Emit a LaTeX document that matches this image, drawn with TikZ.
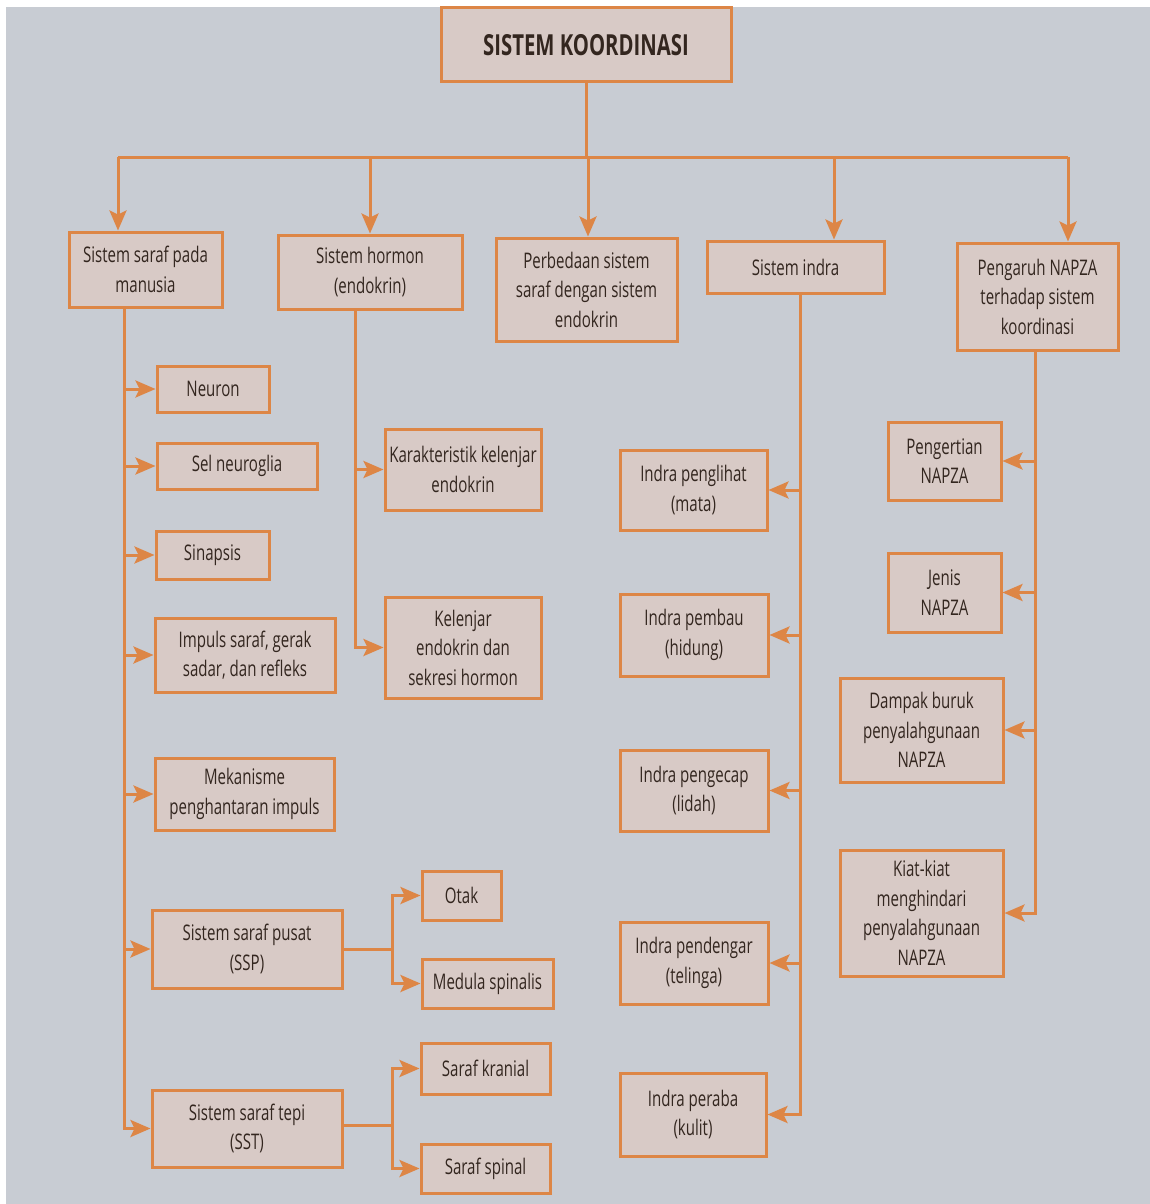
\documentclass[tikz,border=0pt]{standalone}
\usepackage{fontspec}
\setmainfont[FakeStretch=0.7]{Open Sans}
\usetikzlibrary{arrows.meta}
\definecolor{pagebg}{HTML}{C8CCD3}
\definecolor{boxfill}{HTML}{D8CAC6}
\definecolor{orng}{HTML}{DD8646}
\definecolor{ink}{HTML}{33261F}
\tikzset{
  box/.style={draw=orng, line width=3pt, fill=boxfill, inner sep=0pt, align=center,
    text=ink, font=\fontsize{21.5}{29.5}\selectfont},
  titlebox/.style={box, font=\fontsize{29}{32}\selectfont\bfseries},
  conn/.style={draw=orng, line width=3pt},
  arr/.style={conn, -{Stealth[length=20pt,width=17pt,inset=4pt]}},
}
\begin{document}
\begin{tikzpicture}[x=1pt,y=-1pt]
\useasboundingbox (0,0) rectangle (1150,1204);
\fill[white] (0,0) rectangle (1150,1204);
\fill[pagebg] (6,7) rectangle (1150,1204);

% top
\node[titlebox, minimum width=290pt, minimum height=74pt] (top) at (586,45) {SISTEM KOORDINASI};

% level 1
\node[box, minimum width=153pt, minimum height=75pt] (s1) at (145.5,269.5) {Sistem saraf pada\\manusia};
\node[box, minimum width=184pt, minimum height=74pt] (s2) at (370,272) {Sistem hormon\\(endokrin)};
\node[box, minimum width=181pt, minimum height=103pt] (s3) at (586.5,289.5) {Perbedaan sistem\\saraf dengan sistem\\endokrin};
\node[box, minimum width=177pt, minimum height=52pt] (s4) at (795.5,267) {Sistem indra};
\node[box, minimum width=161pt, minimum height=107pt] (s5) at (1037.5,296.5) {Pengaruh NAPZA\\terhadap sistem\\koordinasi};

% saraf children
\node[box, minimum width=112pt, minimum height=46pt] (neuron) at (213,389) {Neuron};
\node[box, minimum width=160pt, minimum height=46pt] (glia) at (237,466) {Sel neuroglia};
\node[box, minimum width=113pt, minimum height=48pt] (sinap) at (212.5,555) {Sinapsis};
\node[box, minimum width=180pt, minimum height=74pt] (impuls) at (245,655) {Impuls saraf, gerak\\sadar, dan refleks};
\node[box, minimum width=179pt, minimum height=72pt] (mekan) at (244.5,794) {Mekanisme\\penghantaran impuls};
\node[box, minimum width=190pt, minimum height=78pt] (ssp) at (247,949) {Sistem saraf pusat\\(SSP)};
\node[box, minimum width=190pt, minimum height=77pt] (sst) at (247,1128.5) {Sistem saraf tepi\\(SST)};
\node[box, minimum width=79pt, minimum height=49pt] (otak) at (461.5,895.5) {Otak};
\node[box, minimum width=131pt, minimum height=49pt] (medula) at (487.5,983.5) {Medula spinalis};
\node[box, minimum width=129pt, minimum height=51pt] (kranial) at (485.5,1068.5) {Saraf kranial};
\node[box, minimum width=129pt, minimum height=49pt] (spinal) at (485.5,1168.5) {Saraf spinal};

% hormon children
\node[box, minimum width=156pt, minimum height=81pt] (karak) at (463,469.5) {Karakteristik kelenjar\\endokrin};
\node[box, minimum width=156pt, minimum height=101pt] (kelen) at (463,647.5) {Kelenjar\\endokrin dan\\sekresi hormon};

% indra children
\node[box, minimum width=147pt, minimum height=80pt] (lihat) at (693.5,490) {Indra penglihat\\(mata)};
\node[box, minimum width=148pt, minimum height=82pt] (bau) at (694,635) {Indra pembau\\(hidung)};
\node[box, minimum width=148pt, minimum height=81pt] (kecap) at (694,790.5) {Indra pengecap\\(lidah)};
\node[box, minimum width=148pt, minimum height=82pt] (dengar) at (694,963) {Indra pendengar\\(telinga)};
\node[box, minimum width=146pt, minimum height=83pt] (raba) at (693,1114.5) {Indra peraba\\(kulit)};

% napza children
\node[box, minimum width=113pt, minimum height=78pt] (arti) at (944.5,461) {Pengertian\\NAPZA};
\node[box, minimum width=113pt, minimum height=79pt] (jenis) at (944.5,592.5) {Jenis\\NAPZA};
\node[box, minimum width=163pt, minimum height=104pt] (dampak) at (921.5,730) {Dampak buruk\\penyalahgunaan\\NAPZA};
\node[box, minimum width=163pt, minimum height=126pt] (kiat) at (921.5,913) {Kiat-kiat\\menghindari\\penyalahgunaan\\NAPZA};

% top distribution
\coordinate (hb) at (586,157);
\coordinate (b1) at (118,157);
\coordinate (b2) at (370,157);
\coordinate (b3) at (588,157);
\coordinate (b4) at (834,157);
\coordinate (b5) at (1068,157);
\draw[conn] (top.south) -- (hb);
\draw[conn] (b1) -- (b5);
\draw[arr] (b1) -- (b1 |- s1.north);
\draw[arr] (b2) -- (b2 |- s2.north);
\draw[arr] (b3) -- (b3 |- s3.north);
\draw[arr] (b4) -- (b4 |- s4.north);
\draw[arr] (b5) -- (b5 |- s5.north);

% trunks
\coordinate (t1) at (124,307);
\coordinate (t2) at (355,309);
\coordinate (t4) at (800,293);
\coordinate (t5) at (1035,350);

\foreach \c in {neuron,glia,sinap,impuls,mekan,ssp,sst}
  \draw[arr] (t1) |- (\c.west);
\foreach \c in {karak,kelen}
  \draw[arr] (t2) |- (\c.west);
\foreach \c in {lihat,bau,kecap,dengar,raba}
  \draw[arr] (t4) |- (\c.east);
\foreach \c in {arti,jenis,dampak,kiat}
  \draw[arr] (t5) |- (\c.east);

% SSP / SST branches
\coordinate (j1) at (392,949);
\coordinate (j2) at (392,1125);
\draw[conn] (ssp.east) -- (j1);
\draw[arr] (j1) |- (otak.west);
\draw[arr] (j1) |- (medula.west);
\draw[conn] (sst.east |- j2) -- (j2);
\draw[arr] (j2) |- (kranial.west);
\draw[arr] (j2) |- (spinal.west);
\end{tikzpicture}
\end{document}
